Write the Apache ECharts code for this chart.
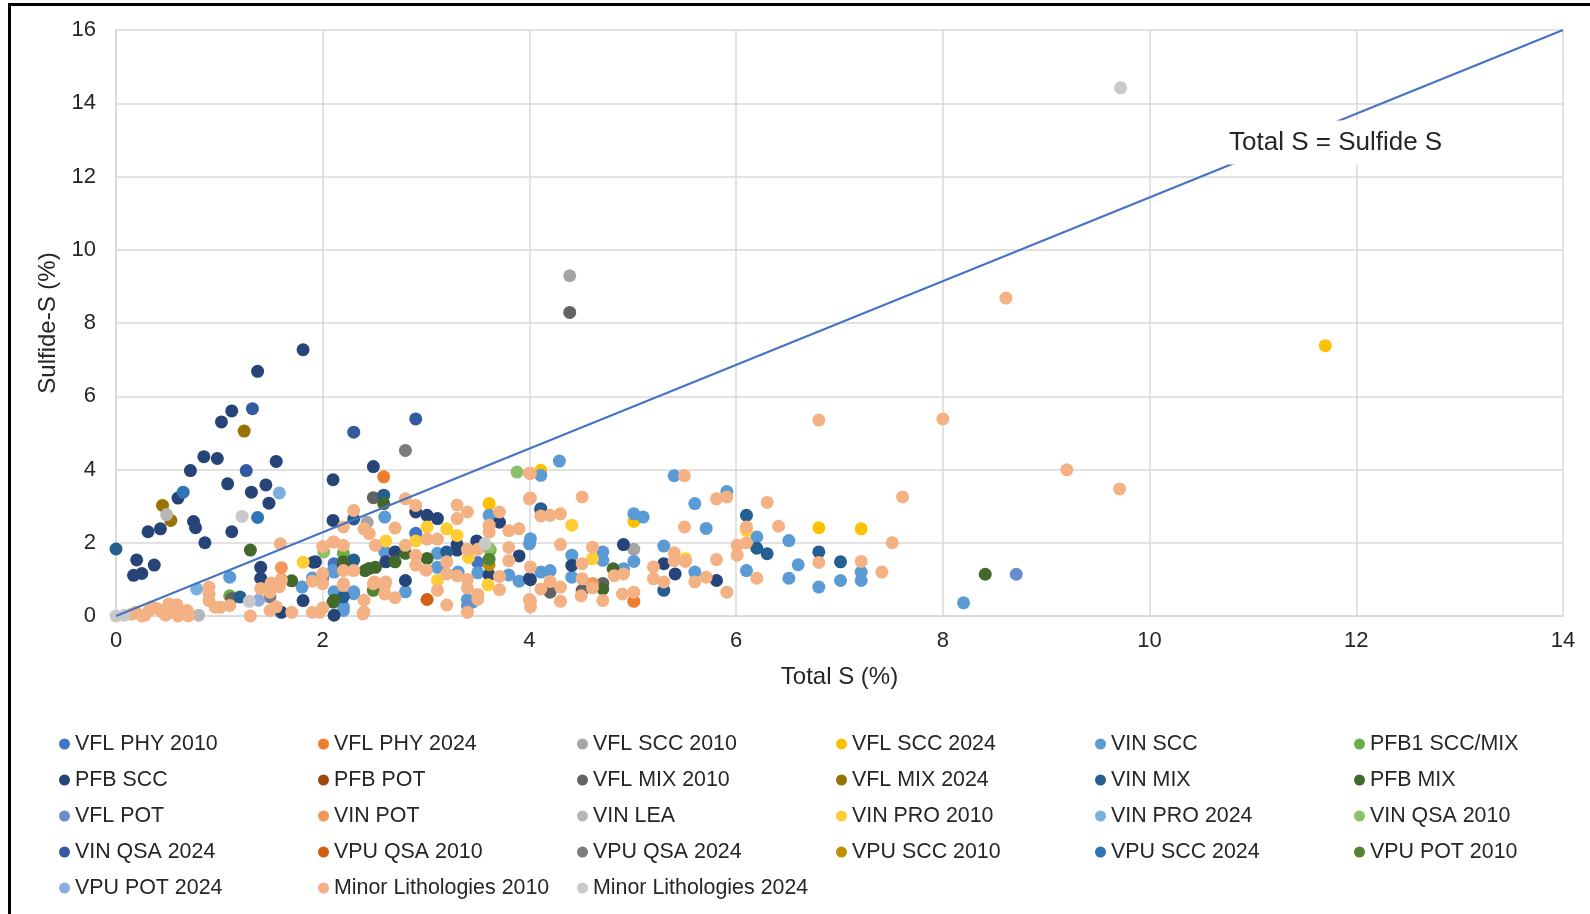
<!DOCTYPE html>
<html>
<head>
<meta charset="utf-8">
<title>Total S vs Sulfide-S</title>
<script src="https://cdn.jsdelivr.net/npm/echarts@6/dist/echarts.min.js"></script>
<style>
  html, body { margin: 0; padding: 0; background: #ffffff; }
  #chart { width: 1590px; height: 914px; }
</style>
</head>
<body>
<div id="chart"></div>
<script>
// ---- Data: [Total S (%), Sulfide-S (%)] per lithology group ----
const vflPhy2010 = [[2.11,1.43],[3.50,1.46],[2.90,2.26]];
const vflPhy2024 = [[2.59,3.80],[5.01,0.40]];
const vflScc2010 = [[4.39,9.29],[2.43,2.56],[5.01,1.82]];
const vflScc2024 = [[11.70,7.38],[4.11,3.98],[6.80,2.41],[7.21,2.38],[5.01,2.58],[3.61,3.07]];
const vinScc = [
  [1.10,1.06],[1.80,0.79],[2.60,2.70],[2.11,1.20],[2.11,0.66],[2.30,0.66],[2.20,0.15],[2.80,0.66],
  [3.11,1.71],[3.11,1.33],[3.31,1.20],[3.50,1.18],[3.61,2.75],[3.90,0.95],[4.00,1.97],[2.10,1.24],
  [2.30,0.61],[4.29,4.23],[4.11,3.84],[4.01,2.11],[4.41,1.66],[4.71,1.75],[4.71,1.52],[4.11,1.20],
  [4.20,1.24],[4.41,1.06],[4.91,1.29],[5.01,1.49],[5.01,2.79],[5.10,2.70],[5.30,1.91],[5.40,3.83],
  [5.60,3.07],[5.71,2.39],[5.91,3.40],[5.60,1.20],[6.20,2.16],[6.51,2.06],[7.21,1.20],[7.21,0.97],
  [7.01,0.97],[6.80,0.79],[6.60,1.40],[6.51,1.03],[6.10,1.24],[8.20,0.36],[3.40,0.45],[1.90,1.04],
  [3.80,1.12],[2.60,1.75],[2.20,0.26],[3.45,0.38]
];
const pfb1SccMix = [[1.10,0.55],[2.20,1.71],[3.62,1.80]];
const pfbScc = [
  [0.20,1.53],[0.17,1.11],[0.25,1.16],[0.37,1.39],[0.31,2.30],[0.43,2.38],[0.60,3.22],[0.72,3.97],
  [0.75,2.58],[0.77,2.41],[0.85,4.35],[0.86,2.00],[0.98,4.30],[1.02,5.30],[1.08,3.61],[1.12,5.60],
  [1.12,2.30],[1.31,3.38],[1.37,6.68],[1.45,3.58],[1.48,3.08],[1.55,4.22],[1.81,7.27],[2.10,3.72],
  [2.10,2.61],[2.49,4.08],[1.40,1.33],[1.40,1.03],[1.60,0.10],[1.81,0.42],[1.91,1.47],[2.11,0.02],
  [2.61,1.48],[2.70,1.75],[2.90,2.84],[3.01,2.75],[3.11,2.66],[3.30,1.95],[3.49,2.05],[3.61,1.12],
  [3.71,2.56],[3.90,1.64],[4.00,1.02],[2.80,0.97],[1.93,1.48],[4.41,1.38],[4.01,0.99],[4.91,1.95],
  [5.30,1.43],[5.41,1.15],[5.81,0.97],[3.30,1.80],[2.20,1.40],[4.11,2.90]
];
const pfbPot = [];
const vflMix2010 = [[4.39,8.29],[2.49,3.23],[4.20,0.65],[4.51,0.70],[4.71,0.89],[1.12,0.48]];
const vflMix2024 = [[0.45,3.02],[0.53,2.61],[1.24,5.05]];
const vinMix = [
  [0.00,1.83],[2.30,2.65],[2.59,3.30],[1.20,0.52],[2.20,0.52],[3.20,1.75],[4.11,2.93],[5.30,0.70],
  [6.10,2.75],[6.20,1.85],[6.30,1.70],[6.80,1.75],[7.01,1.48],[2.30,1.53]
];
const pfbMix = [
  [1.30,1.80],[8.41,1.14],[2.59,3.07],[2.20,1.48],[2.41,1.24],[2.51,1.33],[2.70,1.48],[2.80,1.71],
  [3.01,1.57],[2.11,0.43],[1.70,0.96],[2.10,0.38],[4.71,0.74],[4.81,1.29],[2.45,1.30]
];
const vflPot = [[8.71,1.14],[3.40,0.27]];
const vinPot = [[1.60,1.32],[4.61,0.89],[1.60,1.00]];
const vinLea = [[0.80,0.02],[0.49,2.77]];
const vinPro2010 = [
  [1.81,1.47],[2.61,2.05],[3.01,2.43],[2.90,2.05],[3.20,2.38],[3.30,2.20],[3.41,1.60],[4.41,2.48],
  [4.61,1.56],[5.51,1.56],[6.10,2.34],[3.11,0.97],[2.50,0.75],[3.60,0.85]
];
const vinPro2024 = [[1.58,3.36],[0.78,0.74]];
const vinQsa2010 = [[3.88,3.93],[2.01,1.75],[3.61,1.85]];
const vinQsa2024 = [[1.26,3.97],[1.32,5.66],[2.30,5.02],[2.90,5.38]];
const vpuQsa2010 = [[3.01,0.45]];
const vpuQsa2024 = [[2.80,4.52],[1.49,0.52],[2.00,1.04]];
const vpuScc2010 = [[3.61,1.40]];
const vpuScc2024 = [[0.65,3.38],[1.37,2.69]];
const vpuPot2010 = [[3.61,1.55],[2.49,0.70]];
const vpuPot2024 = [[1.38,0.43]];
const minorLith2010 = [
  [0.15,0.05],[0.19,0.10],[0.28,0.02],[0.32,0.15],[0.40,0.20],[0.45,0.10],[0.51,0.33],[0.54,0.10],
  [0.59,0.31],[0.62,0.10],[0.69,0.15],[0.70,0.00],[0.35,0.25],[0.25,0.00],[0.60,0.00],[0.48,0.02],
  [0.90,0.79],[0.90,0.60],[0.90,0.42],[0.96,0.24],[1.01,0.24],[1.10,0.29],[1.30,0.00],[1.49,0.65],
  [1.49,0.15],[1.59,1.97],[1.70,0.10],[1.90,0.95],[1.90,0.10],[1.97,0.10],[1.60,0.96],[1.58,0.80],
  [1.50,0.90],[1.40,0.75],[1.55,0.25],
  [2.00,1.90],[2.11,2.02],[2.20,1.93],[2.20,2.43],[2.30,2.88],[2.40,2.38],[2.80,3.20],[2.90,3.02],
  [2.80,1.93],[2.51,1.93],[2.20,1.24],[2.30,1.24],[2.90,1.66],[2.90,1.39],[3.20,1.48],[3.20,1.15],
  [2.00,1.16],[2.20,0.88],[2.00,0.22],[2.40,0.43],[2.40,0.11],[2.50,0.93],[2.61,0.93],[3.11,0.70],
  [3.40,1.00],[3.40,0.77],[3.50,0.59],[3.50,0.45],[3.71,1.08],[3.71,0.72],[3.80,1.87],[3.80,1.51],
  [3.30,3.03],[3.40,2.84],[3.30,2.66],[3.71,2.84],[3.61,2.48],[3.61,2.29],[3.80,2.33],[3.90,2.38],
  [3.01,2.10],[3.11,2.10],[4.00,3.90],[4.00,3.20],[3.40,1.82],[3.50,1.82],[4.00,0.45],[2.10,2.02],
  [2.60,0.83],[2.39,0.06],[2.20,0.83],[2.49,0.88],[2.00,0.88],[2.70,2.40],[2.45,2.25],[3.40,0.10],
  [3.00,1.25],[3.30,1.10],[2.60,0.60],[2.70,0.50],[3.20,0.30],
  [4.01,3.89],[4.01,3.22],[4.51,3.25],[4.11,2.73],[4.20,2.75],[4.30,2.79],[4.30,1.95],[4.51,1.43],
  [4.61,1.88],[4.01,1.34],[4.20,0.94],[4.11,0.74],[4.30,0.79],[4.30,0.40],[4.01,0.40],[4.01,0.25],
  [4.51,1.02],[4.61,0.77],[4.71,0.42],[4.82,1.10],[4.91,1.15],[5.01,0.65],[5.20,1.34],[5.20,1.02],
  [5.30,0.93],[5.40,1.73],[5.40,1.51],[5.51,1.49],[5.50,3.83],[5.50,2.43],[5.81,3.20],[5.91,3.25],
  [5.60,0.93],[5.71,1.06],[5.81,1.54],[5.91,0.65],[6.01,1.93],[6.01,1.66],[4.50,0.55],[4.90,0.60],
  [6.10,2.43],[6.30,3.10],[6.41,2.45],[6.10,2.00],[6.20,1.03],[6.80,1.46],[7.21,1.49],[7.41,1.20],
  [7.51,2.00],[7.61,3.25],
  [6.80,5.35],[8.00,5.38],[8.61,8.68],[9.20,3.99],[9.71,3.47]
];
const minorLith2024 = [[9.72,14.42],[0.00,0.00],[0.08,0.02],[1.22,2.72],[1.29,0.40],[3.57,1.97]];

// Reference line Total S = Sulfide S, drawn corner to corner of the plot
const refLine = [[0, 0], [14, 16]];
const refLabelAt = [11.8, 12.93];

// Axis ranges
const xTicks = { min: 0, max: 14, step: 2 };
const yTicks = { min: 0, max: 16, step: 2 };

// Group names (legend order) and their data
const groups = [
  ['VFL PHY 2010', vflPhy2010], ['VFL PHY 2024', vflPhy2024], ['VFL SCC 2010', vflScc2010],
  ['VFL SCC 2024', vflScc2024], ['VIN SCC', vinScc], ['PFB1 SCC/MIX', pfb1SccMix],
  ['PFB SCC', pfbScc], ['PFB POT', pfbPot], ['VFL MIX 2010', vflMix2010],
  ['VFL MIX 2024', vflMix2024], ['VIN MIX', vinMix], ['PFB MIX', pfbMix],
  ['VFL POT', vflPot], ['VIN POT', vinPot], ['VIN LEA', vinLea],
  ['VIN PRO 2010', vinPro2010], ['VIN PRO 2024', vinPro2024], ['VIN QSA 2010', vinQsa2010],
  ['VIN QSA 2024', vinQsa2024], ['VPU QSA 2010', vpuQsa2010], ['VPU QSA 2024', vpuQsa2024],
  ['VPU SCC 2010', vpuScc2010], ['VPU SCC 2024', vpuScc2024], ['VPU POT 2010', vpuPot2010],
  ['VPU POT 2024', vpuPot2024], ['Minor Lithologies 2010', minorLith2010], ['Minor Lithologies 2024', minorLith2024]
];

// Marker colours, same order as the groups
const palette = [
  '#4472C4', '#ED7D31', '#A5A5A5', '#FFC000', '#5B9BD5', '#70AD47',
  '#264478', '#9E480E', '#636363', '#997300', '#255E91', '#43682B',
  '#698ED0', '#F1975A', '#B7B7B7', '#FFCD33', '#7CAFDD', '#8CC168',
  '#335AA1', '#D26012', '#7C7C7C', '#BF9000', '#2E75B6', '#548235',
  '#8FAADC', '#F4B183', '#C9C9C9'
];

const FONT = "'Liberation Sans', Arial, sans-serif";
const TEXT = '#262626';
const GRID_LINE = '#D9D9D9';

const scatterSeries = groups.map(([name, data], i) => ({
  name: name,
  type: 'scatter',
  data: data,
  symbol: 'circle',
  symbolSize: 13,
  itemStyle: { color: palette[i], opacity: 1 },
  emphasis: { disabled: true },
  z: 2
}));

const lineSeries = {
  name: 'Total S = Sulfide S',
  type: 'line',
  data: refLine,
  showSymbol: false,
  symbol: 'none',
  lineStyle: { color: '#4472C4', width: 2 },
  z: 4,
  silent: true,
  markPoint: {
    symbol: 'rect',
    symbolSize: 1,
    itemStyle: { color: 'rgba(0,0,0,0)' },
    z: 6,
    data: [{ coord: refLabelAt, value: 0 }],
    label: {
      show: true,
      position: 'inside',
      formatter: 'Total S = Sulfide S',
      fontFamily: FONT,
      fontSize: 26,
      color: TEXT,
      backgroundColor: '#ffffff',
      padding: [9, 0]
    }
  }
};

const chart = echarts.init(document.getElementById('chart'), null, { renderer: 'canvas' });
chart.setOption({
  animation: false,
  backgroundColor: '#ffffff',
  textStyle: { fontFamily: FONT },
  graphic: [{
    type: 'rect',
    shape: { x: 9.5, y: 4.5, width: 1700, height: 1000 },
    style: { fill: 'none', stroke: '#000000', lineWidth: 3 },
    silent: true
  }],
  grid: { left: 116, right: 27, top: 30, bottom: 298, containLabel: false },
  xAxis: {
    type: 'value',
    min: xTicks.min, max: xTicks.max, interval: xTicks.step,
    name: 'Total S (%)',
    nameLocation: 'middle',
    nameGap: 49,
    nameTextStyle: { fontFamily: FONT, fontSize: 24, color: TEXT },
    axisLine: { show: true, lineStyle: { color: GRID_LINE, width: 1.5 } },
    axisTick: { show: false },
    axisLabel: { fontFamily: FONT, fontSize: 22, color: TEXT, margin: 14 },
    splitLine: { show: true, lineStyle: { color: GRID_LINE, width: 1.5 } }
  },
  yAxis: {
    type: 'value',
    min: yTicks.min, max: yTicks.max, interval: yTicks.step,
    name: 'Sulfide-S (%)',
    nameLocation: 'middle',
    nameGap: 44,
    nameTextStyle: { fontFamily: FONT, fontSize: 24, color: TEXT },
    axisLine: { show: true, lineStyle: { color: GRID_LINE, width: 1.5 } },
    axisTick: { show: false },
    axisLabel: { fontFamily: FONT, fontSize: 22, color: TEXT, margin: 20 },
    splitLine: { show: true, lineStyle: { color: GRID_LINE, width: 1.5 } }
  },
  legend: {
    data: groups.map(g => g[0]),
    left: 59,
    top: 726,
    width: 1560,
    padding: 0,
    itemWidth: 11,
    itemHeight: 11,
    itemGap: 0,
    icon: 'circle',
    selectedMode: false,
    textStyle: { fontFamily: FONT, fontSize: 21.4, color: TEXT, width: 243, lineHeight: 36 }
  },
  series: scatterSeries.concat([lineSeries])
});
</script>
</body>
</html>
